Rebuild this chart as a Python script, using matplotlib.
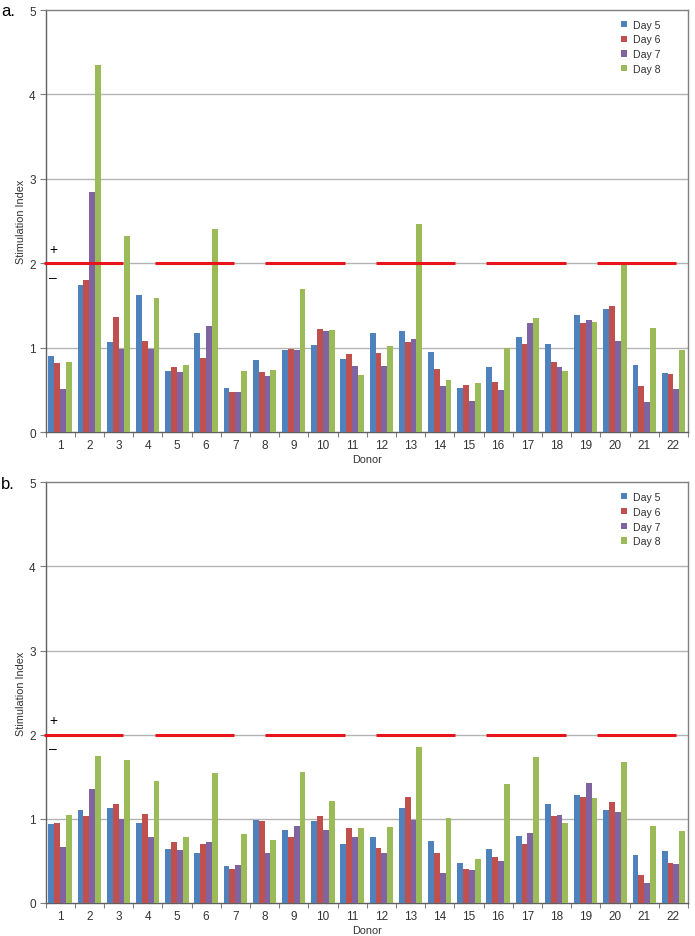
import matplotlib
matplotlib.use("Agg")
import matplotlib.pyplot as plt
import numpy as np

plt.rcParams['font.family'] = ['Liberation Sans', 'DejaVu Sans']

donors = [str(i) for i in range(1, 23)]
series = ["Day 5", "Day 6", "Day 7", "Day 8"]
colors = ["#4F81BD", "#C0504D", "#8064A2", "#9BBB59"]

# Panel a
a_day5 = [0.90, 1.74, 1.07, 1.62, 0.73, 1.17, 0.52, 0.86, 0.97, 1.03, 0.87,
          1.18, 1.20, 0.955, 0.52, 0.77, 1.13, 1.05, 1.39, 1.46, 0.80, 0.70]
a_day6 = [0.82, 1.80, 1.37, 1.08, 0.77, 0.88, 0.48, 0.71, 0.99, 1.22, 0.93,
          0.94, 1.07, 0.75, 0.56, 0.60, 1.04, 0.83, 1.29, 1.49, 0.545, 0.69]
a_day7 = [0.51, 2.84, 0.99, 0.99, 0.71, 1.26, 0.48, 0.67, 0.975, 1.20, 0.79,
          0.79, 1.11, 0.545, 0.37, 0.50, 1.29, 0.77, 1.33, 1.08, 0.36, 0.51]
a_day8 = [0.83, 4.35, 2.32, 1.59, 0.80, 2.41, 0.73, 0.74, 1.70, 1.21, 0.68,
          1.02, 2.47, 0.62, 0.58, 1.00, 1.35, 0.72, 1.31, 1.99, 1.24, 0.97]

# Panel b
b_day5 = [0.94, 1.10, 1.13, 0.95, 0.645, 0.59, 0.435, 0.99, 0.87, 0.97, 0.70,
          0.78, 1.13, 0.74, 0.48, 0.64, 0.80, 1.18, 1.28, 1.10, 0.57, 0.62]
b_day6 = [0.95, 1.03, 1.18, 1.06, 0.73, 0.70, 0.41, 0.97, 0.78, 1.03, 0.89,
          0.65, 1.26, 0.59, 0.40, 0.55, 0.70, 1.03, 1.26, 1.20, 0.33, 0.475]
b_day7 = [0.67, 1.35, 1.00, 0.78, 0.63, 0.72, 0.45, 0.59, 0.91, 0.87, 0.79,
          0.59, 0.99, 0.36, 0.39, 0.50, 0.83, 1.05, 1.43, 1.08, 0.24, 0.46]
b_day8 = [1.05, 1.75, 1.70, 1.45, 0.78, 1.55, 0.82, 0.75, 1.56, 1.21, 0.89,
          0.90, 1.85, 1.01, 0.52, 1.42, 1.73, 0.95, 1.25, 1.68, 0.92, 0.85]

threshold = 2.0
yticks = [0, 1, 2, 3, 4, 5]

W, H = 695, 937
fig = plt.figure(figsize=(W / 100, H / 100), dpi=100)

text_color = "#333333"
spine_color = "#7F7F7F"

def make_panel(rect, data):
    ax = fig.add_axes(rect)
    x = np.arange(len(donors))
    bw = 0.2
    for i, (vals, c, name) in enumerate(zip(data, colors, series)):
        ax.bar(x + (i - 1.5) * bw, vals, width=bw, color=c, label=name,
               linewidth=0, zorder=3)
    ax.set_xlim(-0.5, len(donors) - 0.5)
    ax.set_ylim(0, 5)
    ax.set_yticks(yticks)
    ax.set_yticklabels([str(t) for t in yticks], fontsize=8.5, color=text_color)
    ax.set_xticks(x)
    ax.set_xticklabels(donors, fontsize=8.5, color=text_color)
    ax.set_xticks(np.arange(-0.5, len(donors) + 0.5, 1), minor=True)
    ax.tick_params(axis='x', which='major', length=0, pad=5)
    ax.tick_params(axis='x', which='minor', length=3.5, color=spine_color, width=0.8)
    ax.tick_params(axis='y', length=4, color=spine_color, width=0.8, pad=3)
    for y in [1, 2, 3, 4]:
        ax.axhline(y, color="#B3B3B3", linewidth=1.0, zorder=1)
    for s in ax.spines.values():
        s.set_color(spine_color)
        s.set_linewidth(1.0)
    ax.spines['left'].set_color("#606060")
    ax.spines['bottom'].set_color("#606060")
    # dashed red threshold line
    period = 3.785
    dash = 2.72
    starts = [-0.55 + k * period for k in range(6)]
    ax.hlines([threshold] * len(starts), starts, [s + dash for s in starts],
              colors="#E8141B", linewidth=2.2, zorder=4, clip_on=False)
    ax.text(-0.36, 2.17, "+", fontsize=10, color="black", ha='left', va='center')
    ax.text(-0.38, 1.84, "\u2013", fontsize=10, color="black", ha='left', va='center')
    ax.set_ylabel("Stimulation Index", fontsize=7.8, color=text_color, labelpad=2)
    ax.set_xlabel("Donor", fontsize=7.8, color=text_color, labelpad=2)
    leg = ax.legend(loc='upper right', bbox_to_anchor=(0.97, 0.997), frameon=False,
                    fontsize=7.6, handlelength=0.55, handleheight=0.55,
                    handletextpad=0.55, labelspacing=0.45, borderpad=0.3)
    for t in leg.get_texts():
        t.set_color(text_color)
    return ax

ax1 = make_panel([45.5 / W, 1 - 433.3 / H, (688 - 45.5) / W, (433.3 - 11) / H],
                 [a_day5, a_day6, a_day7, a_day8])
ax2 = make_panel([45.5 / W, 1 - 904 / H, (688 - 45.5) / W, (904 - 483.3) / H],
                 [b_day5, b_day6, b_day7, b_day8])

fig.text(1 / W, 1 - 11 / H, "a.", fontsize=12, color="black", va='center', ha='left')
fig.text(1 / W, 1 - 485 / H, "b.", fontsize=12, color="black", va='center', ha='left')

fig.savefig("out.png", dpi=100)
